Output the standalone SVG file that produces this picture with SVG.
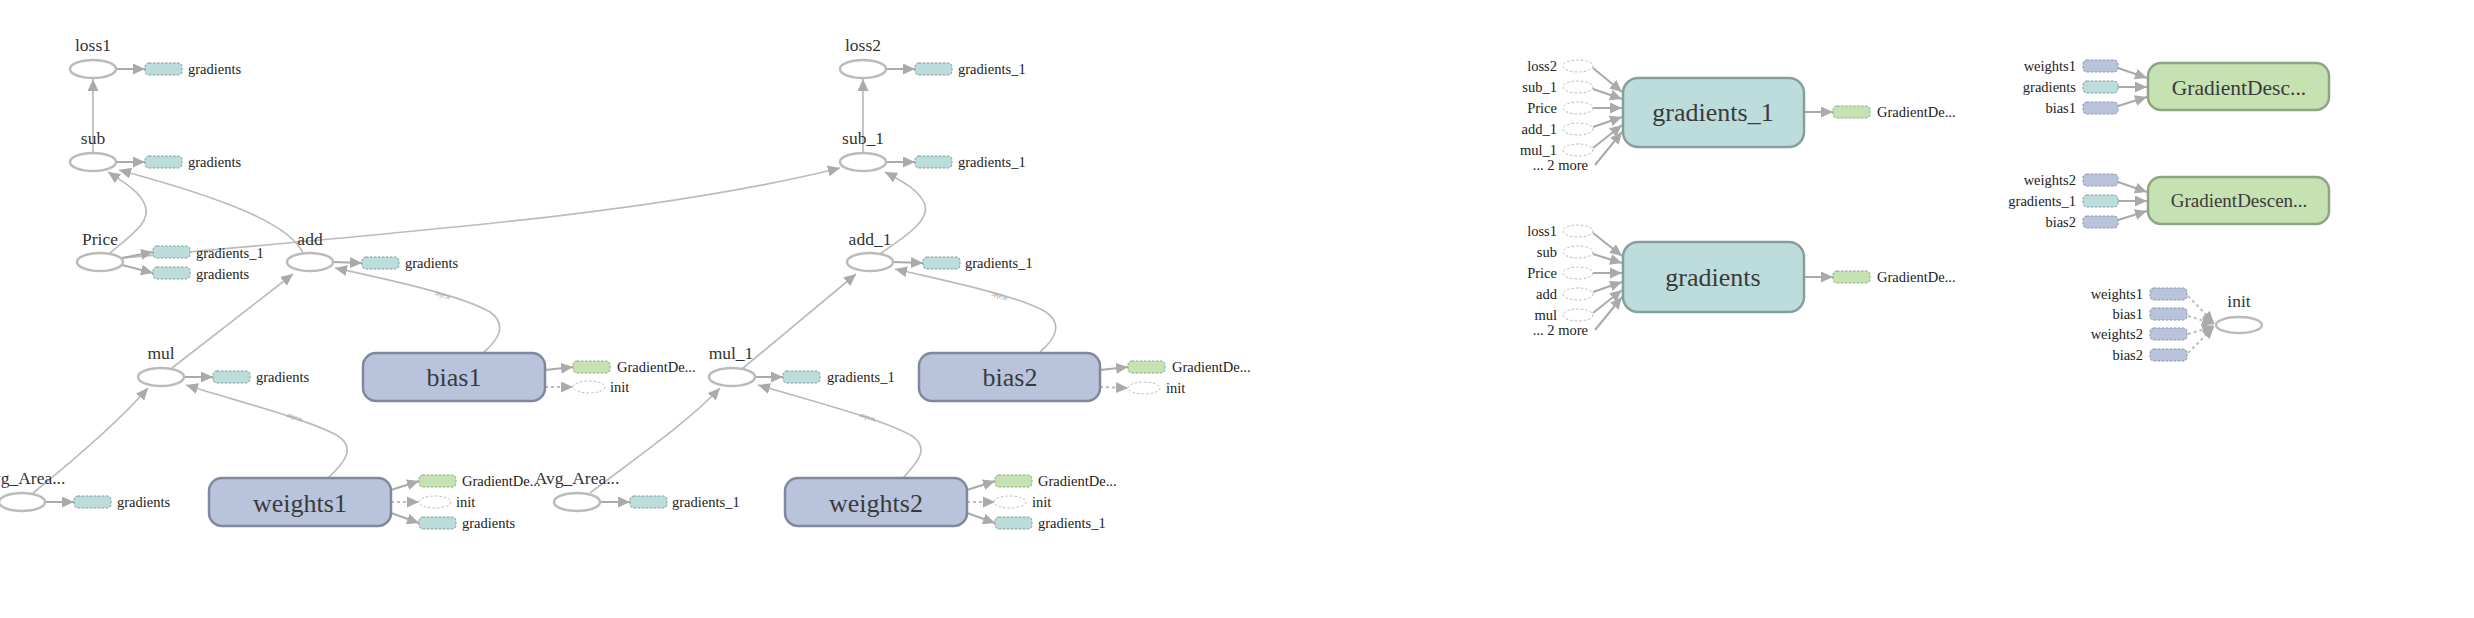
<svg xmlns="http://www.w3.org/2000/svg" width="2474" height="618" viewBox="0 0 2474 618" font-family="'Liberation Serif', 'Times New Roman', serif">
<defs>
<style>
.op{fill:#fff;stroke:#bbb;stroke-width:2.5}
.var{fill:#b9c4dc;stroke:#7f889c;stroke-width:2.5}
.grad{fill:#bddcdc;stroke:#869e9e;stroke-width:2.5}
.gd{fill:#c6e2b3;stroke:#8ea584;stroke-width:2.5}
.sv{fill:#b9c4dc;stroke:#8a92a6;stroke-width:1;stroke-dasharray:2.5,1.5}
.sg{fill:#bddcdc;stroke:#7f9c9c;stroke-width:1;stroke-dasharray:2.5,1.5}
.sgd{fill:#c6e2b3;stroke:#8fa885;stroke-width:1;stroke-dasharray:2.5,1.5}
.sop{fill:#fff;stroke:#bbb;stroke-width:1;stroke-dasharray:2.5,2}
.e{fill:none;stroke:#bbb;stroke-width:1.7;marker-end:url(#ah)}
.es{fill:none;stroke:#aaa;stroke-width:2;marker-end:url(#ah)}
.ed{fill:none;stroke:#bbb;stroke-width:2;stroke-dasharray:3,3;marker-end:url(#ah)}
text{font-family:'Liberation Serif','Times New Roman',serif}
.lbl{font-size:17.5px;fill:#333;text-anchor:middle}
.big{font-size:26px;fill:#3a3a3a;text-anchor:middle}
.sm{font-size:14.5px;fill:#222}
.smr{font-size:14.5px;fill:#222;text-anchor:end}
.sc{font-size:7px;fill:#999;text-anchor:middle}
</style>
<marker id="ah" viewBox="0 0 12 11" refX="12" refY="5.5" markerWidth="12" markerHeight="11" markerUnits="userSpaceOnUse" orient="auto"><path d="M0,0L12,5.5L0,11z" fill="#aaa"/></marker>
</defs>
<rect width="2474" height="618" fill="#fff"/>

<g id="edges">
<path class="e" d="M93,153L93,79"/>
<path class="es" d="M116,69L145,69"/>
<path class="es" d="M116,162L145,162"/>
<path class="e" d="M110,253C130,236 152,222 145,205C139,190 120,180 108,172"/>
<path class="e" d="M303,253C290,225 230,200 119,170"/>
<path class="e" d="M123,258C400,232 650,215 840,168"/>
<path class="es" d="M122,258L153,252"/>
<path class="es" d="M122,265L153,273"/>
<path class="es" d="M333,262L362,263"/>
<path class="e" d="M172,368L293,274"/>
<path class="es" d="M184,377L213,377"/>
<path class="e" d="M33,493C80,455 120,420 148,388"/>
<path class="es" d="M45,502L74,502"/>
<path class="e" d="M328,478C345,462 356,448 338,436C310,420 240,402 186,385"/>
<path class="es" d="M391,490L419,481"/>
<path class="ed" d="M391,502L419,502"/>
<path class="es" d="M391,513L419,523"/>
<path class="e" d="M484,352C498,340 508,325 490,312C460,295 390,280 335,268"/>
<path class="es" d="M545,370L573,367"/>
<path class="ed" d="M545,387L573,387"/>

<path class="e" d="M863,153L863,79"/>
<path class="es" d="M886,69L915,69"/>
<path class="es" d="M886,162L915,162"/>
<path class="e" d="M880,254C902,238 930,222 925,205C920,190 900,180 885,172"/>
<path class="es" d="M893,262L923,263"/>
<path class="e" d="M742,369L856,274"/>
<path class="es" d="M755,377L783,377"/>
<path class="e" d="M590,493C640,455 690,420 720,388"/>
<path class="es" d="M600,502L630,502"/>
<path class="e" d="M903,478C918,462 930,448 912,436C885,420 815,402 758,385"/>
<path class="es" d="M967,490L995,481"/>
<path class="ed" d="M967,502L995,502"/>
<path class="es" d="M967,513L995,523"/>
<path class="e" d="M1040,352C1054,340 1064,325 1046,312C1016,295 950,282 895,269"/>
<path class="es" d="M1100,370L1128,367"/>
<path class="ed" d="M1100,387L1128,388"/>

<path class="es" d="M1593,68L1622,92"/>
<path class="es" d="M1593,89L1622,99"/>
<path class="es" d="M1593,108L1622,108"/>
<path class="es" d="M1593,127L1622,117"/>
<path class="es" d="M1593,148L1622,125"/>
<path class="es" d="M1595,165L1622,132"/>
<path class="es" d="M1804,112L1833,112"/>

<path class="es" d="M1593,233L1622,256"/>
<path class="es" d="M1593,254L1622,263"/>
<path class="es" d="M1593,273L1622,273"/>
<path class="es" d="M1593,292L1622,282"/>
<path class="es" d="M1593,313L1622,290"/>
<path class="es" d="M1595,330L1622,297"/>
<path class="es" d="M1804,277L1833,277"/>

<path class="es" d="M2118,68L2147,78"/>
<path class="es" d="M2118,87L2147,87"/>
<path class="es" d="M2118,106L2147,97"/>
<path class="es" d="M2118,182L2147,192"/>
<path class="es" d="M2118,201L2147,201"/>
<path class="es" d="M2118,220L2147,211"/>

<path class="ed" d="M2188,296L2214,323"/>
<path class="ed" d="M2188,316L2214,324"/>
<path class="ed" d="M2188,334L2214,326"/>
<path class="ed" d="M2188,353L2214,327"/>

<text class="sc" transform="translate(295,416) rotate(199)">scalar</text>
<text class="sc" transform="translate(443,294) rotate(198)">scalar</text>
<text class="sc" transform="translate(868,416) rotate(199)">scalar</text>
<text class="sc" transform="translate(1000,295) rotate(198)">scalar</text>
</g>

<g id="loss1"><ellipse class="op" cx="93" cy="69" rx="23" ry="9"/><text class="lbl" x="93" y="51">loss1</text>
<rect class="sg" x="145" y="63" width="37" height="12" rx="4"/><text class="sm" x="188" y="74">gradients</text></g>
<g id="sub"><ellipse class="op" cx="93" cy="162" rx="23" ry="9"/><text class="lbl" x="93" y="144">sub</text>
<rect class="sg" x="145" y="156" width="37" height="12" rx="4"/><text class="sm" x="188" y="167">gradients</text></g>
<g id="Price"><ellipse class="op" cx="100" cy="262" rx="23" ry="9"/><text class="lbl" x="100" y="245">Price</text>
<rect class="sg" x="153" y="246" width="37" height="12" rx="4"/><text class="sm" x="196" y="258">gradients_1</text>
<rect class="sg" x="153" y="267" width="37" height="12" rx="4"/><text class="sm" x="196" y="279">gradients</text></g>
<g id="add"><ellipse class="op" cx="310" cy="262" rx="23" ry="9"/><text class="lbl" x="310" y="245">add</text>
<rect class="sg" x="362" y="257" width="37" height="12" rx="4"/><text class="sm" x="405" y="268">gradients</text></g>
<g id="mul"><ellipse class="op" cx="161" cy="377" rx="23" ry="9"/><text class="lbl" x="161" y="359">mul</text>
<rect class="sg" x="213" y="371" width="37" height="12" rx="4"/><text class="sm" x="256" y="382">gradients</text></g>
<g id="Avg_Area"><ellipse class="op" cx="22" cy="502" rx="23" ry="9"/><text class="lbl" x="23" y="484">Avg_Area...</text>
<rect class="sg" x="74" y="496" width="37" height="12" rx="4"/><text class="sm" x="117" y="507">gradients</text></g>
<g id="weights1"><rect class="var" x="209" y="478" width="182" height="48" rx="13"/><text class="big" x="300" y="512">weights1</text>
<rect class="sgd" x="419" y="475" width="37" height="12" rx="4"/><text class="sm" x="462" y="486">GradientDe...</text>
<ellipse class="sop" cx="435" cy="502" rx="16" ry="6"/><text class="sm" x="456" y="507">init</text>
<rect class="sg" x="419" y="517" width="37" height="12" rx="4"/><text class="sm" x="462" y="528">gradients</text></g>
<g id="bias1"><rect class="var" x="363" y="353" width="182" height="48" rx="13"/><text class="big" x="454" y="386">bias1</text>
<rect class="sgd" x="573" y="361" width="37" height="12" rx="4"/><text class="sm" x="617" y="372">GradientDe...</text>
<ellipse class="sop" cx="589" cy="387" rx="16" ry="6"/><text class="sm" x="610" y="392">init</text></g>

<g id="loss2"><ellipse class="op" cx="863" cy="69" rx="23" ry="9"/><text class="lbl" x="863" y="51">loss2</text>
<rect class="sg" x="915" y="63" width="37" height="12" rx="4"/><text class="sm" x="958" y="74">gradients_1</text></g>
<g id="sub_1"><ellipse class="op" cx="863" cy="162" rx="23" ry="9"/><text class="lbl" x="863" y="144">sub_1</text>
<rect class="sg" x="915" y="156" width="37" height="12" rx="4"/><text class="sm" x="958" y="167">gradients_1</text></g>
<g id="add_1"><ellipse class="op" cx="870" cy="262" rx="23" ry="9"/><text class="lbl" x="870" y="245">add_1</text>
<rect class="sg" x="923" y="257" width="37" height="12" rx="4"/><text class="sm" x="965" y="268">gradients_1</text></g>
<g id="mul_1"><ellipse class="op" cx="732" cy="377" rx="23" ry="9"/><text class="lbl" x="731" y="359">mul_1</text>
<rect class="sg" x="783" y="371" width="37" height="12" rx="4"/><text class="sm" x="827" y="382">gradients_1</text></g>
<g id="Avg_Area_1"><ellipse class="op" cx="577" cy="502" rx="23" ry="9"/><text class="lbl" x="577" y="484">Avg_Area...</text>
<rect class="sg" x="630" y="496" width="37" height="12" rx="4"/><text class="sm" x="672" y="507">gradients_1</text></g>
<g id="weights2"><rect class="var" x="785" y="478" width="182" height="48" rx="13"/><text class="big" x="876" y="512">weights2</text>
<rect class="sgd" x="995" y="475" width="37" height="12" rx="4"/><text class="sm" x="1038" y="486">GradientDe...</text>
<ellipse class="sop" cx="1010" cy="502" rx="16" ry="6"/><text class="sm" x="1032" y="507">init</text>
<rect class="sg" x="995" y="517" width="37" height="12" rx="4"/><text class="sm" x="1038" y="528">gradients_1</text></g>
<g id="bias2"><rect class="var" x="919" y="353" width="181" height="48" rx="13"/><text class="big" x="1010" y="386">bias2</text>
<rect class="sgd" x="1128" y="361" width="37" height="12" rx="4"/><text class="sm" x="1172" y="372">GradientDe...</text>
<ellipse class="sop" cx="1144" cy="388" rx="16" ry="6"/><text class="sm" x="1166" y="393">init</text></g>

<g id="gradients_1"><rect class="grad" x="1623" y="78" width="181" height="69" rx="15"/><text class="big" x="1713" y="121">gradients_1</text>
<ellipse class="sop" cx="1578" cy="66" rx="15" ry="6"/><text class="smr" x="1557" y="71">loss2</text>
<ellipse class="sop" cx="1578" cy="87" rx="15" ry="6"/><text class="smr" x="1557" y="92">sub_1</text>
<ellipse class="sop" cx="1578" cy="108" rx="15" ry="6"/><text class="smr" x="1557" y="113">Price</text>
<ellipse class="sop" cx="1578" cy="129" rx="15" ry="6"/><text class="smr" x="1557" y="134">add_1</text>
<ellipse class="sop" cx="1578" cy="150" rx="15" ry="6"/><text class="smr" x="1557" y="155">mul_1</text>
<text class="smr" x="1588" y="170">... 2 more</text>
<rect class="sgd" x="1833" y="106" width="37" height="12" rx="4"/><text class="sm" x="1877" y="117">GradientDe...</text></g>
<g id="gradients"><rect class="grad" x="1623" y="242" width="181" height="70" rx="15"/><text class="big" x="1713" y="286">gradients</text>
<ellipse class="sop" cx="1578" cy="231" rx="15" ry="6"/><text class="smr" x="1557" y="236">loss1</text>
<ellipse class="sop" cx="1578" cy="252" rx="15" ry="6"/><text class="smr" x="1557" y="257">sub</text>
<ellipse class="sop" cx="1578" cy="273" rx="15" ry="6"/><text class="smr" x="1557" y="278">Price</text>
<ellipse class="sop" cx="1578" cy="294" rx="15" ry="6"/><text class="smr" x="1557" y="299">add</text>
<ellipse class="sop" cx="1578" cy="315" rx="15" ry="6"/><text class="smr" x="1557" y="320">mul</text>
<text class="smr" x="1588" y="335">... 2 more</text>
<rect class="sgd" x="1833" y="271" width="37" height="12" rx="4"/><text class="sm" x="1877" y="282">GradientDe...</text></g>

<g id="GradientDescent"><rect class="gd" x="2148" y="63" width="181" height="47" rx="13"/><text x="2239" y="95" style="font-size:21.5px;fill:#3a3a3a;text-anchor:middle">GradientDesc...</text>
<rect class="sv" x="2083" y="60" width="35" height="12" rx="4"/><text class="smr" x="2076" y="71">weights1</text>
<rect class="sg" x="2083" y="81" width="35" height="12" rx="4"/><text class="smr" x="2076" y="92">gradients</text>
<rect class="sv" x="2083" y="102" width="35" height="12" rx="4"/><text class="smr" x="2076" y="113">bias1</text></g>
<g id="GradientDescent_1"><rect class="gd" x="2148" y="177" width="181" height="47" rx="13"/><text x="2239" y="207" style="font-size:19px;fill:#3a3a3a;text-anchor:middle">GradientDescen...</text>
<rect class="sv" x="2083" y="174" width="35" height="12" rx="4"/><text class="smr" x="2076" y="185">weights2</text>
<rect class="sg" x="2083" y="195" width="35" height="12" rx="4"/><text class="smr" x="2076" y="206">gradients_1</text>
<rect class="sv" x="2083" y="216" width="35" height="12" rx="4"/><text class="smr" x="2076" y="227">bias2</text></g>
<g id="init"><ellipse class="op" cx="2239" cy="325" rx="23" ry="8"/><text class="lbl" x="2239" y="307">init</text>
<rect class="sv" x="2150" y="288" width="37" height="12" rx="4"/><text class="smr" x="2143" y="299">weights1</text>
<rect class="sv" x="2150" y="308" width="37" height="12" rx="4"/><text class="smr" x="2143" y="319">bias1</text>
<rect class="sv" x="2150" y="328" width="37" height="12" rx="4"/><text class="smr" x="2143" y="339">weights2</text>
<rect class="sv" x="2150" y="349" width="37" height="12" rx="4"/><text class="smr" x="2143" y="360">bias2</text></g>
</svg>
